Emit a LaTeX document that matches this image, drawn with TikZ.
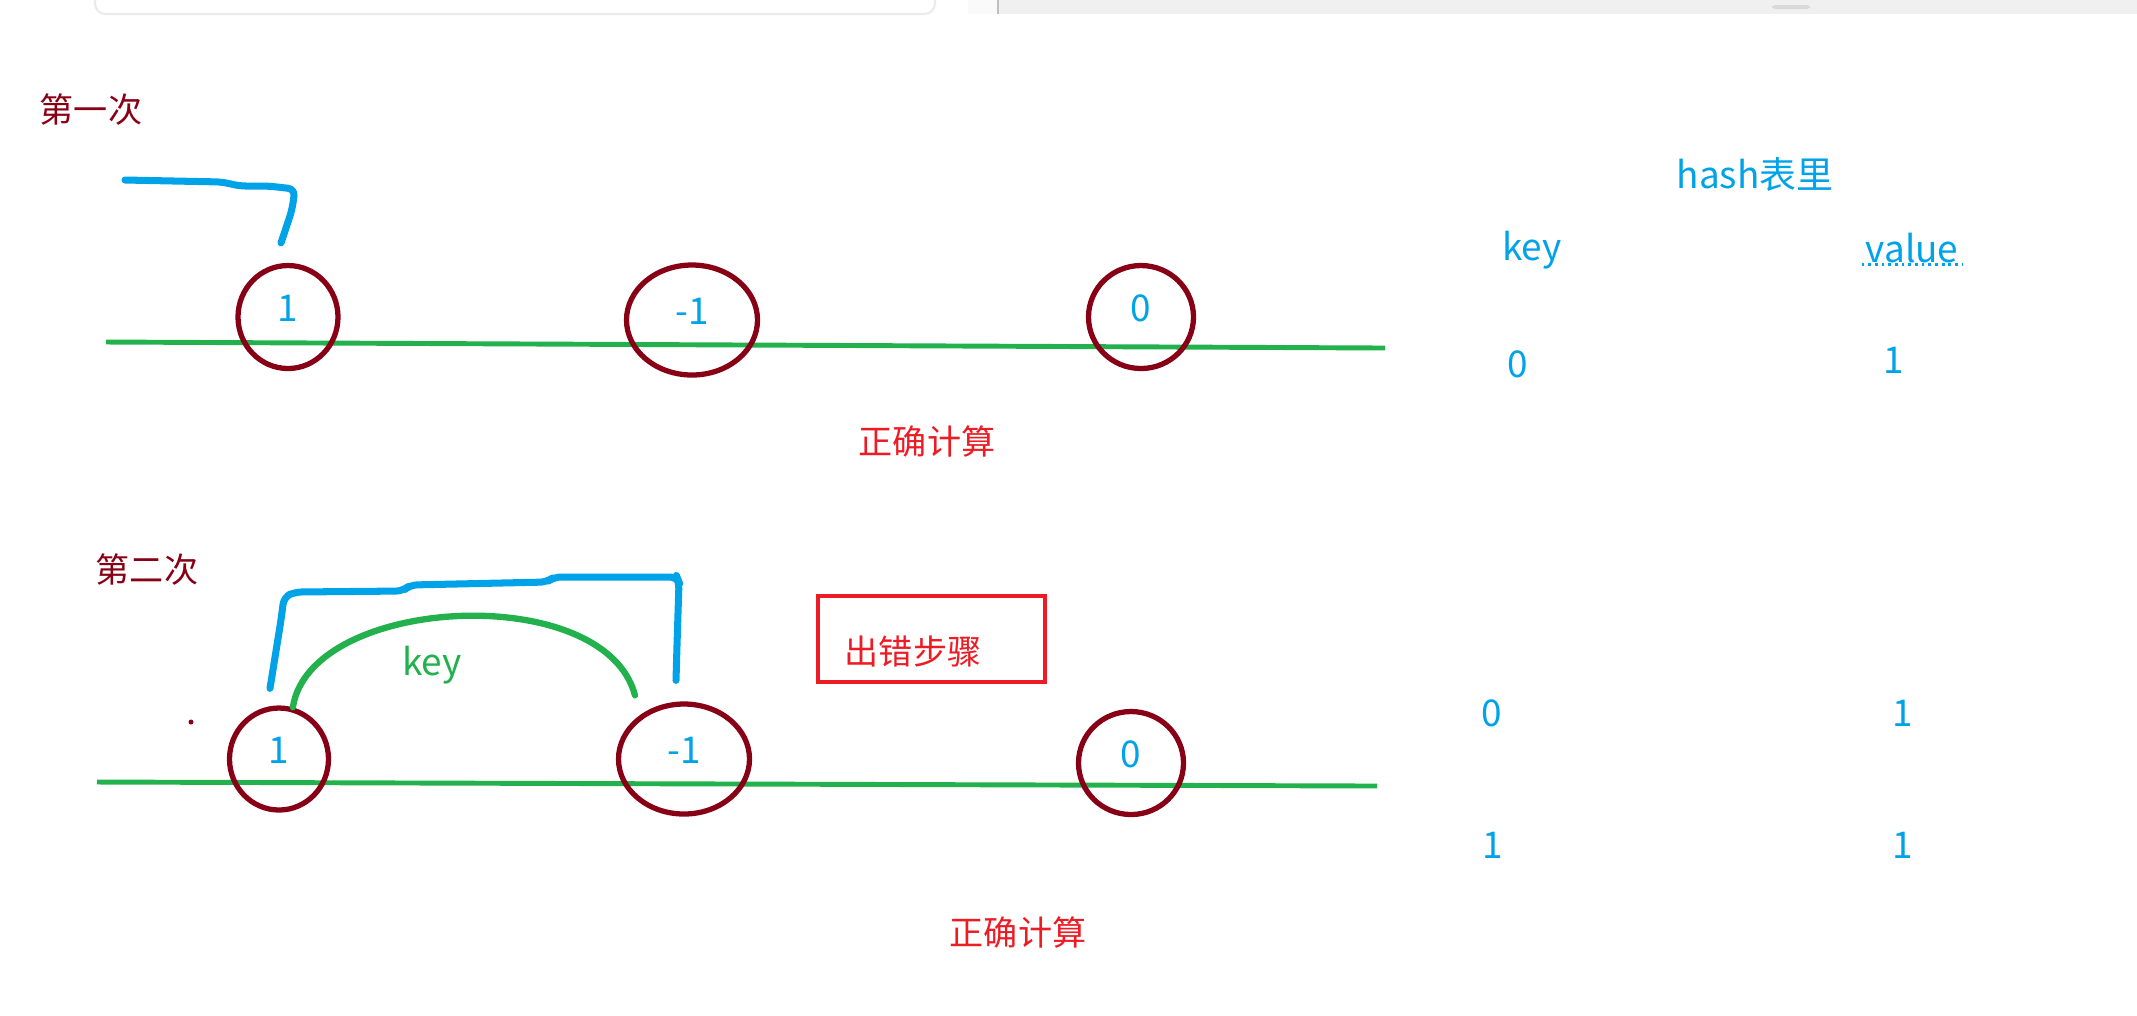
\documentclass[tikz,border=0pt]{standalone}
\usepackage{fontspec}
\newfontfamily\cjk{Noto Sans CJK SC}
\usepackage{tikz}
\usetikzlibrary{positioning,shapes.geometric}
\definecolor{paintblue}{HTML}{00A2E8}
\definecolor{paintgreen}{HTML}{22B14C}
\definecolor{paintmaroon}{HTML}{880015}
\definecolor{paintred}{HTML}{ED1C24}
\tikzset{
  ringnode/.style={draw=paintmaroon, ellipse, line width=1.5pt, inner sep=0pt, text=paintblue, font=\cjk\fontsize{10.5}{12}\selectfont, text depth=0.18cm},
  hashtext/.style={text=paintblue, inner sep=1pt, font=\cjk\fontsize{10.5}{12}\selectfont},
  keynote/.style={text=paintgreen, inner sep=1pt, font=\cjk\fontsize{10.5}{12}\selectfont},
  passlabel/.style={text=paintmaroon, inner sep=1pt, font=\cjk\fontsize{9.7}{12}\selectfont},
  calcnote/.style={text=paintred, inner sep=1pt, font=\cjk\fontsize{9.7}{12}\selectfont},
  errbox/.style={draw=paintred, line width=1.15pt, inner sep=0pt},
  bluestroke/.style={paintblue, line width=2pt, line cap=round, line join=round, rounded corners=2pt},
  greenline/.style={paintgreen, line width=1.4pt},
  greenarc/.style={paintgreen, line width=1.8pt, line cap=round}
}

\begin{document}
\begin{tikzpicture}[every node/.style={font=\cjk}]
  \useasboundingbox (0,0) rectangle (21.37,-10.15);
  \fill[white] (0,0) rectangle (21.37,-10.15);
  % bits of the window left in the screenshot
  \draw[black!8, line width=0.6pt, rounded corners=3pt] (0.95,0.1) -- (0.95,-0.14) -- (9.35,-0.14) -- (9.35,0.1);
  \fill[black!2] (9.68,0) rectangle (9.98,-0.14);
  \fill[black!6] (9.98,0) rectangle (21.37,-0.14);
  \draw[black!25, line width=0.5pt] (9.98,0) -- (9.98,-0.14);
  \fill[black!15, rounded corners=1pt] (17.72,-0.05) rectangle (18.10,-0.09);

  % first pass
  \node[passlabel] (pass1) at (0.91,-1.10) {第一次};
  \draw[greenline] (1.06,-3.42) -- (13.85,-3.48);
  \node[ringnode, minimum width=1.00cm, minimum height=1.03cm] (r1a) at (2.88,-3.17) {1};
  \node[ringnode, minimum width=1.31cm, minimum height=1.10cm] (r1b) at (6.92,-3.20) {-1};
  \node[ringnode, minimum width=1.05cm, minimum height=1.03cm] (r1c) at (11.41,-3.17) {0};
  \draw[bluestroke] (1.25,-1.80) -- (2.23,-1.82) -- (2.39,-1.86) -- (2.68,-1.86) -- (2.95,-1.89) -- (2.92,-2.10) -- ([xshift=-0.07cm,yshift=0.2cm]r1a.north);
  \node[calcnote] (ok1) at (9.27,-4.41) {正确计算};

  % hash table
  \node[hashtext] (hashtitle) at (17.55,-1.74) {hash表里};
  \node[hashtext] (hkey) at (15.32,-2.50) {key};
  \node[hashtext] (hval) at (19.12,-2.48) {value};
  \draw[paintblue, line width=0.8pt, dash pattern=on 0.8pt off 1.1pt] ([yshift=0.03cm]hval.south west) -- ([yshift=0.03cm]hval.south east);
  \node[hashtext] (k1) at (15.18,-3.64) {0};
  \node[hashtext] (v1) at (18.94,-3.60) {1};

  % second pass
  \node[passlabel] (pass2) at (1.47,-5.70) {第二次};
  \fill[paintmaroon] (1.91,-7.22) circle (0.025);
  \draw[greenline] (0.97,-7.82) -- (13.77,-7.86);
  \node[ringnode, minimum width=0.99cm, minimum height=1.02cm] (r2a) at (2.79,-7.59) {1};
  \node[ringnode, minimum width=1.31cm, minimum height=1.10cm] (r2b) at (6.84,-7.59) {-1};
  \node[ringnode, minimum width=1.05cm, minimum height=1.03cm] (r2c) at (11.31,-7.63) {0};
  \draw[bluestroke] ([xshift=-0.09cm,yshift=0.17cm]r2a.north) -- (2.81,-6.20) -- (2.84,-5.97) -- (2.95,-5.92) -- (4.03,-5.91) -- (4.10,-5.85) -- (5.47,-5.82) -- (5.54,-5.77) -- (6.77,-5.77) -- (6.79,-5.82) -- (6.77,-6.45) -- ([xshift=-0.08cm,yshift=0.21cm]r2b.north);
  \draw[greenarc] (r2a.75) .. controls (3.1,-5.95) and (6.05,-5.8) .. ([xshift=-0.49cm,yshift=0.06cm]r2b.north);
  \node[keynote] (arckey) at (4.32,-6.65) {key};
  \node[errbox, minimum width=2.27cm, minimum height=0.86cm] (err) at (9.315,-6.39) {};
  \node[calcnote] (errtxt) at (9.13,-6.51) {出错步骤};
  \node[calcnote] (ok2) at (10.18,-9.32) {正确计算};
  \node[hashtext] (k2) at (14.92,-7.13) {0};
  \node[hashtext] (v2) at (19.03,-7.13) {1};
  \node[hashtext] (k3) at (14.93,-8.45) {1};
  \node[hashtext] (v3) at (19.03,-8.45) {1};
\end{tikzpicture}
\end{document}
